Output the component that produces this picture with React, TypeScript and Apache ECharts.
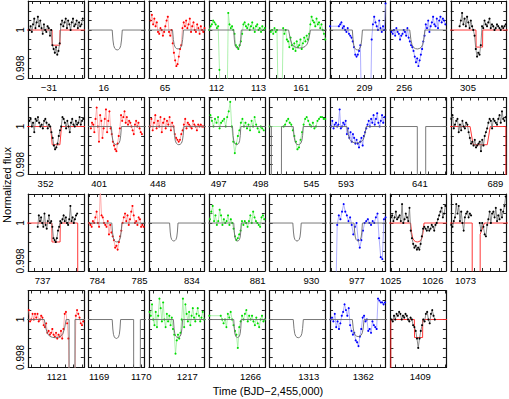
import React, { useEffect, useRef } from 'react';
import * as echarts from 'echarts';

// ---- panel x ranges (days, BJD-2,455,000) ----
const SPAN = 1.32;
const XMIN = [-31.49, 15.64, 64.62, 111.83, 160.25, 208.18, 255.67, 304.59,
  351.59, 400.75, 447.79, 496.78, 544.01, 592.62, 640.30, 687.94,
  736.66, 783.79, 832.98, 879.85, 929.01, 976.36, 1024.99, 1072.65,
  1120.32, 1168.75, 1216.09, 1265.02, 1312.07, 1361.21, 1408.29];
const XLABELS = [[-31], [16], [65], [112, 113], [161], [209], [256], [305],
  [352], [401], [448], [497, 498], [545], [593], [641], [689],
  [737], [784, 785], [834], [881], [930], [977], [1025, 1026], [1073],
  [1121], [1169, 1170], [1217], [1266], [1313], [1362], [1409]];
// data colour of each panel: k black, r red, g green, b blue, m model only
const KIND = ['k', 'm', 'r', 'g', 'g', 'b', 'b', 'k',
  'k', 'r', 'r', 'g', 'g', 'b', 'm', 'k',
  'k', 'r', 'm', 'g', 'm', 'b', 'k', 'k',
  'r', 'm', 'g', 'g', 'm', 'b', 'k'];
const Y_TICKS = [0.998, 0.9985, 0.999, 0.9995, 1, 1.0005, 1.001];
const Y_LABELS = [0.998, 1];

// ---- observed data: first / last time, flux offsets in units of 1e-4 ----
const DATA_T0 = [-31.464, null, 64.660, 111.83, 160.276, 208.18, 255.696, 304.801,
  351.616, 400.803, 447.816, 496.806, 544.01, 592.646, null, 687.953,
  736.884, 783.803, null, 879.863, null, 976.492, 1025.003, 1072.663,
  1120.333, null, 1216.103, 1265.02, null, 1361.223, 1408.316];
const DATA_T1 = [-30.196, null, 65.94, 113.15, 161.57, 209.50, 256.977, 305.897,
  352.897, 402.017, 449.084, 498.074, 545.33, 593.914, null, 689.247,
  737.822, 785.097, null, 881.157, null, 977.68, 1026.297, 1073.957,
  1121.627, null, 1217.397, 1266.34, null, 1362.517, 1409.346];
const _ = null;
const FLUX: (null | (number | null)[])[] = [
  [0, 2, -1, 3, 6, 1, 4, 7, 2, 5, 1, -2, 3, 0, -1, 2, 1, -3, 0, -8, -10, -12, -9, -13, -11, -7, 3, 5, 2, 4, 6, 1, 5, 3, 0, 4, 6, 2, 3, 5, 1, 4, 2, 3, 6],
  null,
  [5, 8, 3, 6, 2, 4, -1, -2, 1, 0, -3, -1, 2, 5, 7, -1, -3, 0, -7, -12, -16, -19, -18, -14, -10, -8, 1, 4, 2, 5, 1, 3, 6, -1, 2, 4, 0, -1, 3, 1, -2, 2, 0, -1, 1],
  [0, 2, 3, 5, 4, 3, 1, 2, -21, -45, -45, -45, -45, -45, -45, 9, 3, 1, 2, 0, -2, -8, -9, -10, -8, -6, -2, 3, 4, 2, 1, 3, 0, 2, 4, 1, -1, 2, 3, 0, 1, -1, 2, 0, 1],
  [-1, 0, -2, 1, -1, 0, -40, -40, -40, -40, 1, -2, 0, -5, -6, -9, -4, -8, -10, -7, -11, -6, -9, -8, -5, -10, -7, -4, -6, -3, -5, -2, 3, 7, 5, 4, 2, 6, 3, 4, 1, 3, 0, -2, -5],
  [2, _, _, _, _, _, _, 2, 3, 4, 1, 2, 0, -1, 1, -2, -3, -4, -6, -9, -13, -14, -13, -11, -8, -45, _, _, _, _, _, _, -45, -5, 3, 7, 4, 2, 0, 5, 1, -1, 2, 0, 14],
  [-1, -2, 0, -3, 1, -1, -2, -5, -3, -2, 0, -1, -3, 1, -4, -6, -8, -9, -11, -14, -17, -15, -19, -16, -13, -10, -6, -3, 3, 1, 5, -1, 2, 4, 7, 3, 2, 6, 1, 5, 7, 4, 6, 5, 3],
  [2, 5, 9, 3, 6, 2, 7, 4, 1, 5, 2, 0, -3, -10, -14, -12, -13, -8, 2, 1, 5, 3, 2, 4, 6, 1, 3, 2, 0, 1, 3, 2, 1, 0, 2, 1, 2, 3],
  [3, 4, 0, 2, -3, 4, 3, 5, 2, 0, 1, -1, 3, 4, 2, -1, 1, 0, -3, -6, -10, -12, -11, -9, -5, -2, 0, 5, 4, 2, -1, 3, 0, -3, 2, 4, 1, 0, 3, 1, 2, 5, 1, 3, 4],
  [-1, 2, 1, -3, 4, 10, 0, -8, 6, 3, -6, -1, 4, 9, -3, 3, 8, -1, -4, -8, -10, -12, -13, -9, -5, -1, 6, 3, 5, 8, 2, 5, 1, 3, 2, 0, -2, -4, 1, 3, 0, 2, -1, -3, -4],
  [0, 4, -2, 2, 6, -1, 3, 0, 5, -3, 2, 4, -1, 3, 1, 5, -2, 2, 0, -4, -6, -7, -8, -7, -4, -2, 1, 4, -1, 2, 1, 0, -1, 3, 1, 0, -2, 1, 0, 1, 0, 0],
  [6, 3, 0, 4, 2, 5, -1, 2, 3, 4, 0, 5, 8, 13, 0, -8, -14, -9, -5, -2, 2, 4, 0, 2, -1, 1, -2, 3, 0, 5, 1, -1, -3, 0, -1, -2],
  [0, _, _, _, _, _, _, _, _, 0, 1, 3, 4, 2, 1, -2, -5, -8, -12, -11, -7, -3, 1, 4, 5, 3, 1, 0, 2, -1, 0, 3, 4, 5, 5, 4, 4],
  [0, 3, -1, 1, 2, 0, 1, 9, -1, 0, 2, 1, 3, -4, -1, -6, -3, -8, -4, -6, -9, -7, -9, -11, -8, -6, -10, -5, -3, -1, 1, 3, 0, 4, 2, 6, 1, 4, 7, 2, 0, 3, 6, 2, 5],
  null,
  [4, 6, -1, 1, 3, 4, -3, 1, -2, 3, 0, -1, 2, 1, -3, -6, -9, -8, -10, -7, -11, -10, -9, -8, -13, -7, -10, -5, -3, -1, 2, 4, 3, -1, 4, 3, 2, 1, 4, 6, 2, 8, 4, 3, 5],
  [-2, 4, 1, 3, 0, -2, 5, -1, -3, 1, 4, 0, 1, -2, -8, -9, -10, -8, -4, -2, 1, 0, 2, 4, 1, 3, 0, -1, 2, 9, 1, 3, 0, 2, 4, 5],
  [0, -1, -2, 1, 0, 3, 6, 0, -2, 18, 4, 3, 0, -1, -2, 1, -6, -1, -5, -7, -9, -13, -12, -14, -10, -7, -4, 0, 3, 5, 1, 4, -1, 2, 6, 9, 4, 0, 1, -1, 3, 2, -2, -1, -2],
  null,
  [2, 6, 9, 1, 4, -1, 1, 7, 4, -1, 2, 0, 1, 4, -1, 2, 0, -3, -7, -9, -8, -6, -4, 1, -1, 1, 0, -2, 1, 4, 0, 6, 3, 1, 0, -1, -2, 3, 4, 2],
  null,
  [-45, -1, 4, 2, 6, 10, 6, 4, 1, 3, -1, -6, -2, 0, -9, -13, -9, -4, 0, 1, 2, 0, -1, 1, 0, 3, 5, -8, -18, -19, 2, 3],
  [3, 4, 1, 3, 6, 2, 3, 4, 1, 10, 0, 2, 5, 3, 1, 8, -4, -8, -11, -13, -12, -14, -13, -14, -11, -7, -3, -2, -3, -4, -2, -4, -3, -1, -2, -4, -1, 0, 2, 4, 6, 8, 3, 5, 9],
  [-1, -2, 1, 3, 10, 5, 9, 1, 6, 0, -4, 3, 5, 6, 3, 5, 4, _, _, _, _, _, _, 0, -4, 0, -2, -6, -7, -1, 2, 6, 0, 5, 6, 3, 8, 1, 4, 2, 7, 3, 6, 9, 14],
  [5, -1, 0, 3, 0, 3, 1, 3, -1, 0, 2, 1, -3, -4, -2, -7, -6, -8, -7, -5, -8, -9, -7, -10, -8, -9, -6, -10, -5, 3, 4, -2, -10, -45, _, _, _, -45, 2, 5, 3, 1, -2, -3, -1],
  null,
  [4, 2, 8, 0, -3, 4, -4, 2, 11, 6, -1, 9, 0, -4, 3, -1, 2, -3, 1, -5, -8, -18, -11, -8, -10, -7, 0, 11, -4, 8, 3, -1, 4, -3, 2, 6, 1, -1, 3, 6, 2, -1, 1, 4, 0],
  [2, _, _, _, _, _, _, _, 2, 0, -2, 0, -4, 3, 1, 4, 0, -3, -6, -8, -15, -4, -1, 2, 0, 3, 5, -1, 2, 0, 2, -1, -3, 1, -2, -4, 0, 2, -1, 0],
  null,
  [0, 1, -1, 3, -4, -1, -5, -2, 2, 4, 8, 5, 2, 6, -3, -6, -8, -7, -11, -12, -14, -9, -5, 1, 2, -1, 0, -6, -5, -7, -1, -3, -4, -5, 11, 10, 9, 9, 8, 9],
  [0, -1, 2, 0, 3, 2, 4, 3, 0, 2, 1, 3, 2, 0, -1, 1, 0, -3, -4, -6, -10, -15, -10, -6, -3, 0, -1, 3, 4, 0, -2, 3, 5, 2, 0],
];

// ---- transit model: centre (day), half-duration (day), depth (1e-4), shape ----
const MODEL_TC = [-30.83, 16.32, 65.31, 112.50, 160.96, 208.83, 256.31, 305.27,
  352.25, 401.41, 448.50, 497.43, 544.69, 593.25, null, 688.64,
  737.32, 784.46, 833.57, 880.52, 929.66, 977.03, 1025.63, null,
  1120.96, 1169.41, 1216.78, 1265.69, 1312.75, 1361.88, 1408.96];
const MODEL_HW = [0.095, 0.12, 0.13, 0.09, 0.26, 0.12, 0.18, 0.08,
  0.13, 0.12, 0.12, 0.10, 0.12, 0.23, 0, 0.24,
  0.10, 0.12, 0.10, 0.09, 0.10, 0.10, 0.16, 0,
  0.26, 0.10, 0.11, 0.09, 0.12, 0.14, 0.10];
const MODEL_DEPTH = [8, 10.5, 10, 9.6, 9.5, 10.5, 10, 9,
  9.6, 9.6, 9.6, 9.6, 9.6, 8.7, 0, 9.6,
  10, 10, 9.5, 9.5, 9.5, 9.5, 10, 0,
  9.6, 10, 9.5, 9.5, 9.6, 9, 9.5];
const MODEL_SHAPE = ['b', 'u', 'u', 'u', 'u', 'u', 'u', 'b',
  't', 'u', 'u', 'u', 'u', 'u', 'u', 't',
  'b', 'u', 'u', 'u', 'u', 'u', 'u', 'u',
  'u', 'u', 'u', 'u', 'u', 'u', 'b'];
// deep transits of the companion (start, end in days)
const DEEP: number[][][] = [[], [], [], [], [], [], [], [],
  [], [], [], [], [[544.05, 544.29]], [], [[640.94, 641.14]], [[689.25, 690.0]],
  [[737.835, 738.5]], [], [], [], [], [], [], [],
  [[1121.29, 1121.43]], [[1169.82, 1169.98]], [], [], [], [], [[1407.8, 1408.30]]];
const MODEL_P24 = [[1072.0, 0], [1073.16, 0], [1073.162, -100], [1073.348, -100], [1073.35, -6], [1073.45, 0], [1074.5, 0]];
// normalised transit profiles (x in half-durations, y in depths)
const SHAPES: Record<string, number[][]> = {
  u: [[-1, 0], [-0.85, 0.5], [-0.7, 0.78], [-0.5, 0.92], [-0.25, 0.98], [0, 1], [0.25, 0.98], [0.5, 0.92], [0.7, 0.78], [0.85, 0.5], [1, 0]],
  b: [[-1, 0], [-0.96, 1], [0.96, 1], [1, 0]],
  t: [[-1, 0], [-0.7, 1], [0.7, 1], [1, 0]],
};

const PT_COLOR: Record<string, string> = { k: '#000000', r: '#ff0000', g: '#00dd00', b: '#0000ff' };
const LN_COLOR: Record<string, string> = { k: '#707070', r: '#ff9a9a', g: '#99ee99', b: '#9a9aff' };

const FONT = '"Liberation Sans", Arial, Helvetica, sans-serif';
const YMIN = 0.99747, YMAX = 1.00153;
const LEFT0 = 28.3, COLW = 60.35, PW = 55.5, TOP0 = 1, ROWH = 96.5, PH = 77;

const toFlux = (u: number) => 1 + u * 1e-4;

function modelPoints(i: number): number[][] {
  if (i === 23) return MODEL_P24.map(([t, u]) => [t, toFlux(u)]);
  const xmin = XMIN[i], xmax = xmin + SPAN;
  const pts: number[][] = [[xmin - 0.5, 0], [xmax + 0.5, 0]];
  const tc = MODEL_TC[i];
  if (tc != null) {
    for (const [dx, dy] of SHAPES[MODEL_SHAPE[i]]) pts.push([tc + dx * MODEL_HW[i], -dy * MODEL_DEPTH[i]]);
  }
  for (const [s, e] of DEEP[i]) pts.push([s, 0], [s + 0.002, -100], [e - 0.002, -100], [e, 0]);
  pts.sort((a, b) => a[0] - b[0]);
  return pts.map(([t, u]) => [t, toFlux(u)]);
}

function dataPoints(i: number): (number | null)[][] {
  const f = FLUX[i]!;
  const t0 = DATA_T0[i]!, t1 = DATA_T1[i]!;
  const n = f.length;
  return f.map((u, k) => [t0 + (k * (t1 - t0)) / (n - 1), u == null ? null : toFlux(u)]);
}

function xLabel(v: number) {
  const n = Math.round(v);
  return n < 0 ? '\u2212' + Math.abs(n) : String(n);
}

function buildOption() {
  const grid: any[] = [], xAxis: any[] = [], yAxis: any[] = [], series: any[] = [];
  const axisLine = { show: true, onZero: false, lineStyle: { color: '#111', width: 1.2 } };
  const tick = (vals: number[]) => ({ show: true, inside: true, length: 3, lineStyle: { color: '#111', width: 0.9 }, customValues: vals });
  for (let i = 0; i < XMIN.length; i++) {
    const r = Math.floor(i / 8), c = i % 8;
    grid.push({ left: LEFT0 + c * COLW, top: TOP0 + r * ROWH, width: PW, height: PH });
    const xmin = XMIN[i], xmax = xmin + SPAN;
    const xt: number[] = [];
    for (let k = Math.ceil(xmin / 0.2 - 1e-9); k * 0.2 <= xmax + 1e-9; k++) xt.push(+(k * 0.2).toFixed(3));
    const base = { type: 'value', gridIndex: i, min: xmin, max: xmax, splitLine: { show: false }, axisLine, axisTick: tick(xt) };
    xAxis.push({ ...base, position: 'bottom', axisLabel: { show: true, customValues: XLABELS[i], formatter: xLabel, fontSize: 9.5, color: '#000', margin: 4, fontFamily: FONT } });
    xAxis.push({ ...base, position: 'top', axisLabel: { show: false } });
    const ybase = { type: 'value', gridIndex: i, min: YMIN, max: YMAX, splitLine: { show: false }, axisLine, axisTick: tick(Y_TICKS) };
    yAxis.push({ ...ybase, position: 'left', axisLabel: { show: c === 0, customValues: Y_LABELS, rotate: 90, formatter: (v: number) => (Math.abs(v - 1) < 1e-9 ? '1' : '0.998'), fontSize: 10, color: '#000', margin: 3, fontFamily: FONT } });
    yAxis.push({ ...ybase, position: 'right', axisLabel: { show: false } });

    const kind = KIND[i];
    if (FLUX[i]) {
      series.push({
        type: 'line', xAxisIndex: 2 * i, yAxisIndex: 2 * i, data: dataPoints(i),
        symbol: 'circle', symbolSize: 2.1, showSymbol: true, showAllSymbol: true,
        connectNulls: i !== 23, clip: true, silent: true, z: 2,
        itemStyle: { color: PT_COLOR[kind] }, lineStyle: { color: LN_COLOR[kind], width: 0.8 },
      });
    }
    series.push({
      type: 'line', xAxisIndex: 2 * i, yAxisIndex: 2 * i, data: modelPoints(i),
      symbol: 'none', showSymbol: false, clip: true, silent: true, z: kind === 'k' ? 1 : 3,
      lineStyle: { color: kind === 'k' ? '#ff2020' : '#6a6a6a', width: 0.9 },
    });
  }
  return {
    animation: false,
    backgroundColor: '#ffffff',
    textStyle: { fontFamily: FONT },
    grid, xAxis, yAxis, series,
    graphic: [
      { type: 'text', x: 7, y: 185, rotation: Math.PI / 2, style: { text: 'Normalized flux', font: `11px ${FONT}`, fill: '#000', align: 'center', verticalAlign: 'middle' } },
      { type: 'text', x: 268, y: 391, style: { text: 'Time (BJD\u22122,455,000)', font: `11px ${FONT}`, fill: '#000', align: 'center', verticalAlign: 'middle' } },
    ],
  };
}

export default function App() {
  const ref = useRef<HTMLDivElement>(null);
  useEffect(() => {
    const chart = echarts.init(ref.current!, undefined, { renderer: 'svg' });
    chart.setOption(buildOption() as any);
    return () => chart.dispose();
  }, []);
  return <div ref={ref} style={{ position: 'absolute', left: 0, top: 0, width: 509, height: 399 }} />;
}
